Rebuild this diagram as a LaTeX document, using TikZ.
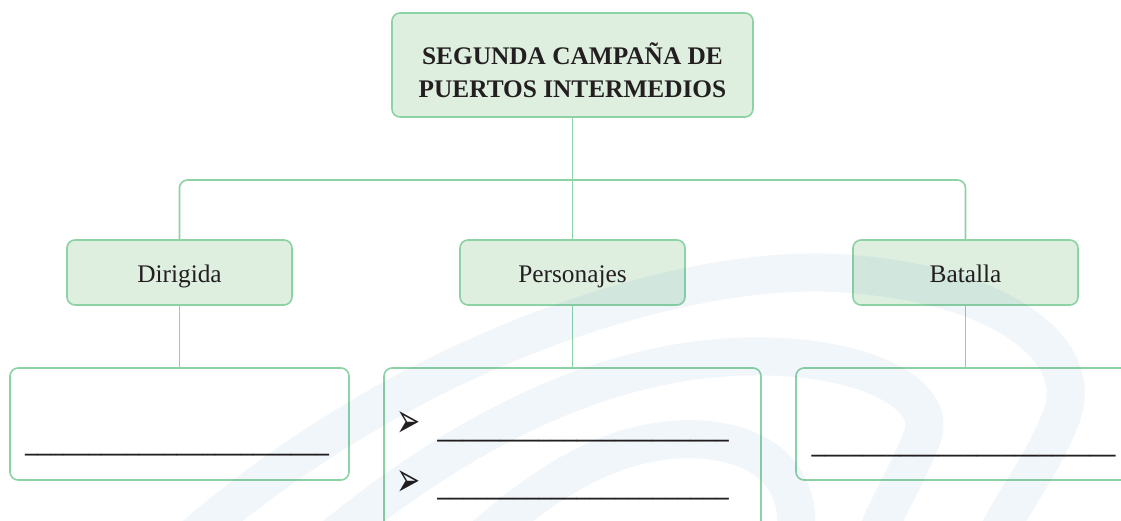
\documentclass[tikz,border=0pt]{standalone}
\usepackage{fontspec}
\setmainfont{Liberation Serif}
\newfontfamily\symfont{DejaVu Sans}
\usepackage{tikz}
\usetikzlibrary{positioning}

\definecolor{borde}{RGB}{140,210,165}
\definecolor{relleno}{RGB}{222,239,224}
\definecolor{tinta}{RGB}{35,31,32}
\definecolor{marca}{RGB}{241,246,251}

\tikzset{
  caja/.style={draw=borde, line width=1.2pt, rounded corners=6pt, fill=relleno,
    text=tinta, font=\fontsize{19}{24.75}\selectfont, align=center, inner sep=0pt},
  rama/.style={caja, minimum width=168.75pt, minimum height=48.75pt,
    text height=17pt, text depth=2pt},
  respuesta/.style={draw=borde, line width=1.2pt, rounded corners=6pt, fill=white, inner sep=0pt},
  conector/.style={draw=borde, line width=1.2pt},
  raya/.style={text=tinta, font=\bfseries\fontsize{19}{22}\selectfont, anchor=base, inner sep=0pt},
  vineta/.style={text=tinta, font=\symfont\fontsize{27}{30}\selectfont, inner sep=0pt}
}

\begin{document}
\begin{tikzpicture}[x=0.75pt, y=-0.75pt]
  \clip (0,0) rectangle (1121,521);
  \fill[white] (0,0) rectangle (1121,521);

  \node[caja, minimum width=270.75pt, minimum height=78pt] (top) at (572.5,65)
    {\rule{0pt}{24pt}\bfseries SEGUNDA CAMPAÑA DE\\ \bfseries PUERTOS INTERMEDIOS};

  \node[rama] (dirigida) at (179.5,272.5) {Dirigida};
  \node[rama] (personajes) at (572.5,272.5) {Personajes};
  \node[rama] (batalla) at (965.5,272.5) {Batalla};

  \node[respuesta, minimum width=254.25pt, minimum height=84pt] (resp1) at (179.5,424) {};
  \node[respuesta, minimum width=282.75pt, minimum height=165pt] (resp2) at (572.5,478) {};
  \node[respuesta, minimum width=252pt, minimum height=84pt] (resp3) at (964,424) {};

  \coordinate (eje) at (572.5,180);
  \draw[conector] (top.south) -- (eje) -- (personajes.north);
  \draw[conector, rounded corners=6pt] (dirigida.north) |- (eje) -| (batalla.north);
  \draw[conector] (dirigida.south) -- (resp1.north);
  \draw[conector] (personajes.south) -- (resp2.north);
  \draw[conector] (batalla.south) -- (batalla.south |- resp3.north);

  \node[raya] (linea1) at (177,452) {\_\_\_\_\_\_\_\_\_\_\_\_\_\_\_\_\_\_\_\_\_\_\_\_};
  \node[raya] (linea4) at (963.5,453) {\_\_\_\_\_\_\_\_\_\_\_\_\_\_\_\_\_\_\_\_\_\_\_\_};
  \node[vineta] (punto1) at (409,425) {\scalebox{0.8}[1.35]{➢}};
  \node[vineta] (punto2) at (409,484) {\scalebox{0.8}[1.35]{➢}};
  \node[raya] (linea2) at (583,438) {\_\_\_\_\_\_\_\_\_\_\_\_\_\_\_\_\_\_\_\_\_\_\_};
  \node[raya] (linea3) at (583,496) {\_\_\_\_\_\_\_\_\_\_\_\_\_\_\_\_\_\_\_\_\_\_\_};

  \begin{scope}[blend mode=multiply, draw=marca, line width=28.5pt]
    \draw (190,540) .. controls (420,340) and (700,260) .. (850,274)
      .. controls (1000,285) and (1090,350) .. (1060,420)
      .. controls (1040,470) and (1010,505) .. (995,540);
    \draw (330,540) .. controls (500,400) and (650,350) .. (780,357)
      .. controls (880,362) and (940,400) .. (921,440)
      .. controls (905,480) and (885,510) .. (875,540);
    \draw (480,540) .. controls (560,470) and (620,440) .. (690,439)
      .. controls (760,440) and (805,475) .. (795,540);
  \end{scope}
\end{tikzpicture}
\end{document}
